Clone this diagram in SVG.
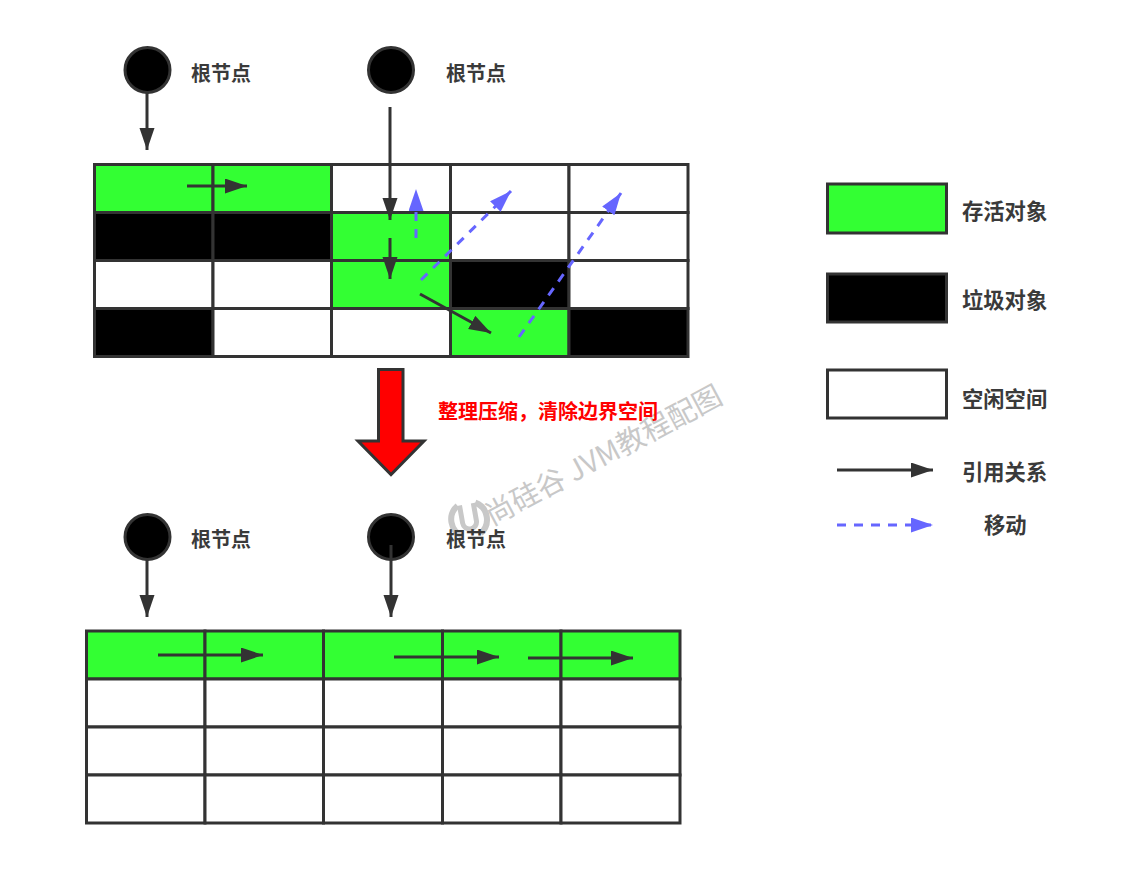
<svg xmlns="http://www.w3.org/2000/svg" width="1124" height="869" viewBox="0 0 1124 869">
<style>
.t{font-family:"Noto Sans CJK SC","Noto Sans",sans-serif;font-weight:700;font-size:20px;fill:#3a3a3a}
.b{font-size:21.3px}
.g{fill:#3f3}.k{fill:#000}.w{fill:#fff}
.c rect,.l{stroke:#333;stroke-width:3}
.n{fill:#000;stroke:#333;stroke-width:3}
.a{fill:none;stroke:#333;stroke-width:3;marker-end:url(#ah)}
.m{fill:none;stroke:#66f;stroke-width:3;stroke-dasharray:9 8;marker-end:url(#mh)}
</style>
<defs>
<marker id="ah" markerUnits="userSpaceOnUse" markerWidth="24" markerHeight="16" refX="22" refY="7.5" orient="auto"><path d="M0 0L22 7.500L0 15Z" fill="#333"/></marker>
<marker id="mh" markerUnits="userSpaceOnUse" markerWidth="24" markerHeight="16" refX="22" refY="7.500" orient="auto"><path d="M0 0L22 7.500L0 15Z" fill="#66f"/></marker>
</defs>
<rect width="1124" height="869" fill="#fff"/>
<g id="watermark">
<text transform="translate(492 526) rotate(-28)" font-family="'Noto Sans CJK SC','Noto Sans',sans-serif" font-size="28.800" fill="#c8c8c8">尚硅谷 JVM教程配图</text>
<g transform="translate(469 519) rotate(-10)" fill="none" stroke="#c8c8c8" stroke-width="6">
<path d="M-9 -15A18 18 0 0 0 -9 16"/><path d="M9 -15A18 18 0 0 1 9 16"/>
<path d="M-7 -15V3a7 7 0 0 0 14 0V-15" stroke-width="5"/></g>
</g>
<g id="grid-top" class="c">
<rect class="g" x="94.5" y="164.5" width="118.5" height="48"/><rect class="g" x="213" y="164.5" width="118.5" height="48"/><rect class="w" x="331.500" y="164.500" width="119" height="48"/><rect class="w" x="450.500" y="164.500" width="118.500" height="48"/><rect class="w" x="569" y="164.500" width="119" height="48"/>
<rect class="k" x="94.5" y="212.500" width="118.5" height="48"/><rect class="k" x="213" y="212.500" width="118.5" height="48"/><rect class="g" x="331.500" y="212.500" width="119" height="48"/><rect class="w" x="450.500" y="212.500" width="118.500" height="48"/><rect class="w" x="569" y="212.500" width="119" height="48"/>
<rect class="w" x="94.5" y="260.500" width="118.5" height="48"/><rect class="w" x="213" y="260.500" width="118.5" height="48"/><rect class="g" x="331.500" y="260.500" width="119" height="48"/><rect class="k" x="450.500" y="260.500" width="118.500" height="48"/><rect class="w" x="569" y="260.500" width="119" height="48"/>
<rect class="k" x="94.5" y="308.500" width="118.5" height="48"/><rect class="w" x="213" y="308.500" width="118.5" height="48"/><rect class="w" x="331.500" y="308.500" width="119" height="48"/><rect class="g" x="450.500" y="308.500" width="118.500" height="48"/><rect class="k" x="569" y="308.500" width="119" height="48"/>
</g>
<g id="grid-bottom" class="c">
<rect class="g" x="86.5" y="631" width="118.5" height="48"/><rect class="g" x="205" y="631" width="118.5" height="48"/><rect class="g" x="323.500" y="631" width="119" height="48"/><rect class="g" x="442.500" y="631" width="118.500" height="48"/><rect class="g" x="561" y="631" width="119" height="48"/>
<rect class="w" x="86.5" y="679" width="118.5" height="48"/><rect class="w" x="205" y="679" width="118.5" height="48"/><rect class="w" x="323.500" y="679" width="119" height="48"/><rect class="w" x="442.500" y="679" width="118.500" height="48"/><rect class="w" x="561" y="679" width="119" height="48"/>
<rect class="w" x="86.5" y="727" width="118.5" height="48"/><rect class="w" x="205" y="727" width="118.5" height="48"/><rect class="w" x="323.500" y="727" width="119" height="48"/><rect class="w" x="442.500" y="727" width="118.500" height="48"/><rect class="w" x="561" y="727" width="119" height="48"/>
<rect class="w" x="86.5" y="775" width="118.5" height="48"/><rect class="w" x="205" y="775" width="118.5" height="48"/><rect class="w" x="323.500" y="775" width="119" height="48"/><rect class="w" x="442.500" y="775" width="118.500" height="48"/><rect class="w" x="561" y="775" width="119" height="48"/>
</g>
<g id="root-1"><circle class="n" cx="147.500" cy="70" r="22.500"/><text class="t" x="191" y="81">根节点</text></g>
<g id="root-2"><circle class="n" cx="391" cy="70" r="22.500"/><text class="t" x="446" y="81">根节点</text></g>
<g id="root-3"><circle class="n" cx="147.500" cy="537" r="22.500"/><text class="t" x="191" y="547">根节点</text></g>
<g id="root-4"><circle class="n" cx="391" cy="537" r="22.500"/><text class="t" x="446" y="547">根节点</text></g>
<g id="connectors">
<path class="a" d="M147 93V150"/><path class="a" d="M390 107V220"/><path class="a" d="M390 238V279"/><path class="a" d="M420 294L491 333"/><path class="a" d="M187 186H247"/>
<path class="m" d="M416 238V189"/><path class="m" d="M421 280L511 191"/><path class="m" d="M519 337L621 193"/>
<path class="a" d="M147 560V617"/><path class="a" d="M391 545V617"/><path class="a" d="M158 655H263"/><path class="a" d="M394 657H499"/><path class="a" d="M528 658H633"/>
</g>
<g id="compress"><path d="M378.500 369.500H403V441H424L391 474.500L358 441H378.500Z" fill="#f00" stroke="#333" stroke-width="3"/>
<text class="t" x="438" y="419" style="fill:#f00">整理压缩，清除边界空间</text></g>
<g id="legend-live"><rect class="g l" x="827.500" y="184" width="119" height="49"/><text class="t b" x="962" y="219">存活对象</text></g>
<g id="legend-garbage"><rect class="k l" x="827.500" y="274" width="119" height="48"/><text class="t b" x="962" y="308">垃圾对象</text></g>
<g id="legend-free"><rect class="w l" x="827.500" y="370" width="119" height="48"/><text class="t b" x="962" y="407">空闲空间</text></g>
<g id="legend-ref"><path class="a" d="M837 470H933"/><text class="t b" x="962" y="480">引用关系</text></g>
<g id="legend-move"><path class="m" d="M837 525H933"/><text class="t b" x="984" y="533">移动</text></g>
</svg>
